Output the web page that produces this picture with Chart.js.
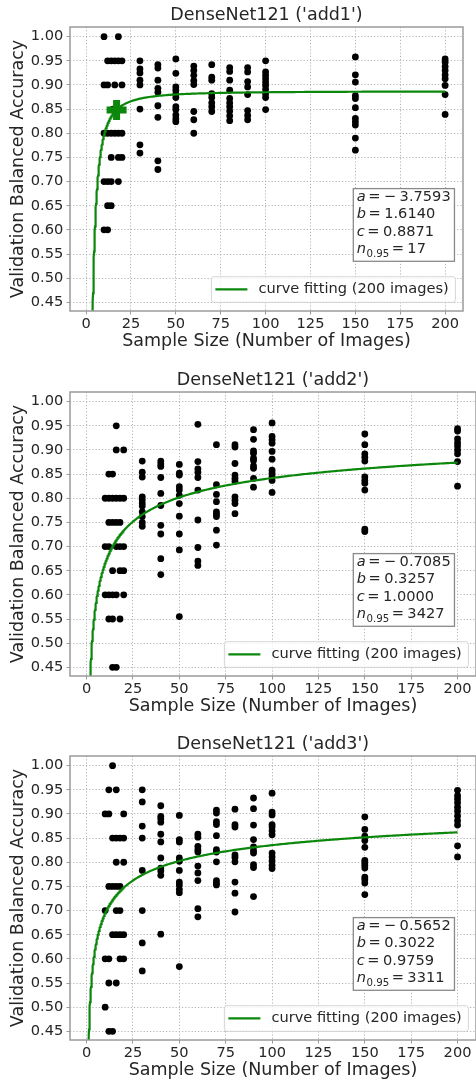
<!DOCTYPE html>
<html>
<head>
<meta charset="utf-8">
<script src="https://cdn.jsdelivr.net/npm/chart.js@4.4.1/dist/chart.umd.min.js"></script>
<style>
  html, body { margin: 0; padding: 0; background: #fff; overflow: hidden; width: 476px; height: 1082px; }
  canvas.panel { position: absolute; left: 0; }
</style>
</head>
<body>
<canvas id="add1" class="panel" style="top:0px" width="480" height="353"></canvas>
<canvas id="add2" class="panel" style="top:365px" width="480" height="353"></canvas>
<canvas id="add3" class="panel" style="top:729px" width="480" height="353"></canvas>
<script>
// ---- axis ticks ----
const sizeTicks = [0, 25, 50, 75, 100, 125, 150, 175, 200];
const accTicks = [0.45, 0.50, 0.55, 0.60, 0.65, 0.70, 0.75, 0.80, 0.85, 0.90, 0.95, 1.00];

// ---- 'add1': runs with 10–20 images [size, balanced accuracy] ----
const add1Small = [
  [10, 1.00], [18, 1.00],
  [12, 0.95], [14, 0.95], [16, 0.95], [18, 0.95], [20, 0.95],
  [10, 0.90], [12, 0.90], [16, 0.90], [20, 0.90],
  [15, 0.85], [18, 0.85],
  [10, 0.80], [12, 0.80], [14, 0.80], [16, 0.80], [18, 0.80], [20, 0.80],
  [14, 0.75], [18, 0.75], [20, 0.75],
  [10, 0.70], [12, 0.70], [14, 0.70], [18, 0.70],
  [12, 0.65], [14, 0.65],
  [10, 0.60], [12, 0.60]
];
// ---- 'add1': runs with 30–200 images [size, accuracies] ----
const add1Runs = [
  [30, [0.95, 0.933, 0.925, 0.91, 0.90, 0.85, 0.776, 0.759]],
  [40, [0.942, 0.935, 0.91, 0.893, 0.885, 0.857, 0.833, 0.743, 0.725]],
  [50, [0.954, 0.924, 0.896, 0.889, 0.881, 0.874, 0.855, 0.849, 0.838, 0.83, 0.824]],
  [60, [0.939, 0.93, 0.92, 0.909, 0.901, 0.845, 0.828, 0.80]],
  [70, [0.942, 0.916, 0.91, 0.882, 0.874, 0.863, 0.855, 0.845]],
  [80, [0.936, 0.928, 0.91, 0.889, 0.872, 0.863, 0.855, 0.846, 0.836, 0.826]],
  [90, [0.936, 0.927, 0.907, 0.896, 0.88, 0.847, 0.837, 0.828]],
  [100, [0.95, 0.927, 0.92, 0.913, 0.906, 0.899, 0.891, 0.882, 0.874, 0.849]],
  [150, [0.958, 0.921, 0.906, 0.878, 0.872, 0.853, 0.831, 0.824, 0.817, 0.79, 0.765]],
  [200, [0.954, 0.947, 0.938, 0.93, 0.921, 0.913, 0.899, 0.88, 0.839]]
];
// fitted learning curve y = a * n^(-b) + c, and n for 95 %
const add1Fit = [-3.7593, 1.6140, 0.8871, 17];

// ---- 'add2' ----
const add2Small = [
  [16, 0.95],
  [16, 0.90], [20, 0.90],
  [12, 0.85], [14, 0.85],
  [10, 0.80], [12, 0.80], [14, 0.80], [16, 0.80], [18, 0.80], [20, 0.80],
  [12, 0.75], [14, 0.75], [16, 0.75], [18, 0.75],
  [10, 0.70], [12, 0.70], [16, 0.70], [18, 0.70], [20, 0.70],
  [14, 0.65], [18, 0.65], [20, 0.65],
  [10, 0.60], [12, 0.60], [14, 0.60], [16, 0.60], [20, 0.60],
  [12, 0.55], [14, 0.55], [18, 0.55],
  [14, 0.45], [16, 0.45]
];
const add2Runs = [
  [30, [0.877, 0.854, 0.844, 0.803, 0.797, 0.79, 0.784, 0.772, 0.762, 0.75, 0.742]],
  [40, [0.877, 0.871, 0.866, 0.843, 0.81, 0.785, 0.744, 0.726, 0.675, 0.642]],
  [50, [0.87, 0.852, 0.848, 0.824, 0.817, 0.806, 0.789, 0.763, 0.726, 0.693, 0.555]],
  [60, [0.953, 0.876, 0.861, 0.854, 0.843, 0.817, 0.755, 0.698, 0.67, 0.661]],
  [70, [0.911, 0.828, 0.808, 0.793, 0.772, 0.767, 0.762, 0.734, 0.703]],
  [80, [0.911, 0.906, 0.872, 0.848, 0.841, 0.835, 0.803, 0.796, 0.789, 0.768]],
  [90, [0.942, 0.922, 0.898, 0.893, 0.883, 0.878, 0.867, 0.862, 0.841, 0.823]],
  [100, [0.956, 0.928, 0.921, 0.914, 0.897, 0.881, 0.858, 0.852, 0.845, 0.837, 0.812]],
  [150, [0.933, 0.911, 0.892, 0.885, 0.877, 0.844, 0.837, 0.831, 0.817, 0.736, 0.731]],
  [200, [0.944, 0.939, 0.923, 0.915, 0.908, 0.9, 0.892, 0.876, 0.825]]
];
const add2Fit = [-0.7085, 0.3257, 1.0000, 3427];

// ---- 'add3' ----
const add3Small = [
  [14, 1.00],
  [12, 0.95], [16, 0.95],
  [10, 0.90], [12, 0.90], [20, 0.90],
  [14, 0.85], [16, 0.85], [18, 0.85], [20, 0.85],
  [16, 0.80], [20, 0.80],
  [12, 0.75], [14, 0.75], [16, 0.75], [18, 0.75],
  [10, 0.70], [16, 0.70], [18, 0.70],
  [14, 0.65], [16, 0.65], [18, 0.65], [20, 0.65],
  [10, 0.60], [12, 0.60], [18, 0.60], [20, 0.60],
  [12, 0.55], [16, 0.55],
  [10, 0.50],
  [12, 0.45], [14, 0.45]
];
const add3Runs = [
  [30, [0.95, 0.925, 0.875, 0.85, 0.783, 0.70, 0.633, 0.575]],
  [40, [0.917, 0.895, 0.89, 0.883, 0.858, 0.842, 0.809, 0.788, 0.782, 0.773, 0.651]],
  [50, [0.897, 0.847, 0.842, 0.809, 0.802, 0.783, 0.759, 0.753, 0.744, 0.737, 0.584]],
  [60, [0.858, 0.852, 0.833, 0.826, 0.821, 0.792, 0.778, 0.762, 0.704, 0.687]],
  [70, [0.908, 0.902, 0.884, 0.878, 0.855, 0.826, 0.821, 0.801, 0.762, 0.757, 0.753]],
  [80, [0.91, 0.878, 0.873, 0.815, 0.81, 0.801, 0.759, 0.736, 0.697]],
  [90, [0.933, 0.911, 0.877, 0.847, 0.832, 0.824, 0.819, 0.795, 0.789, 0.729]],
  [100, [0.943, 0.904, 0.898, 0.878, 0.873, 0.865, 0.857, 0.819, 0.811, 0.803, 0.794, 0.787]],
  [150, [0.894, 0.868, 0.854, 0.845, 0.831, 0.804, 0.799, 0.794, 0.788, 0.769, 0.764, 0.757, 0.733]],
  [200, [0.949, 0.938, 0.931, 0.923, 0.914, 0.906, 0.896, 0.886, 0.877, 0.834, 0.811]]
];
const add3Fit = [-0.5652, 0.3022, 0.9759, 3311];

// ---- styling ----
const FAMILY = '"DejaVu Sans", sans-serif';
const TEXT = '#262626';
const GREEN = '#0b870b';
const X_MIN = -8.95, X_MAX = 209.95;
const Y_MIN = 0.432, Y_MAX = 1.02;
const CANVAS_H = 353, PLOT_TOP = 27, PLOT_BOTTOM = 311, AXIS_W = 70;

Chart.defaults.font.family = FAMILY;
Chart.defaults.color = TEXT;

function curveValue(fit, n) {
  const [a, b, c] = fit;
  return a * Math.pow(n, -b) + c;
}

function scatterPoints(small, runs) {
  const pts = small.map(([x, y]) => ({ x, y }));
  runs.forEach(([x, ys]) => ys.forEach(y => pts.push({ x, y })));
  return pts;
}

function curvePoints(fit) {
  const pts = [];
  for (let n = 1; n <= 200.0001; n += (n < 20 ? 0.1 : 1)) pts.push({ x: n, y: curveValue(fit, n) });
  return pts;
}

function fmt(v) { return Math.abs(v).toFixed(4); }

// frame, title, fit-parameter box and legend drawn on top of the plot
const panelDecor = {
  id: 'panelDecor',
  afterDraw(chart, args, o) {
    const { ctx, chartArea: a } = chart;
    ctx.save();

    // axes frame
    ctx.strokeStyle = '#9b9b9b';
    ctx.lineWidth = 1.5;
    ctx.strokeRect(a.left, a.top, a.right - a.left, a.bottom - a.top);

    // panel title
    ctx.fillStyle = TEXT;
    ctx.textAlign = 'center';
    ctx.textBaseline = 'middle';
    ctx.font = '17.5px ' + FAMILY;
    ctx.fillText(o.title, (a.left + a.right) / 2, 15.5);

    // fit-parameter box
    const [pa, pb, pc, pn] = o.fit;
    const rows = [
      ['a', null, pa < 0 ? '\u2212' : null, fmt(pa)],
      ['b', null, pb < 0 ? '\u2212' : null, fmt(pb)],
      ['c', null, pc < 0 ? '\u2212' : null, fmt(pc)],
      ['n', '0.95', null, String(pn)]
    ];
    const main = '14.6px ' + FAMILY, ital = 'italic 14.6px ' + FAMILY, small = '10.2px ' + FAMILY;
    const boxL = a.left + 283.3, boxT = a.top + 161.6;
    const textL = boxL + 3.4;
    ctx.textAlign = 'left';
    // measure widths first
    const widths = rows.map(([v, sub, sign, num]) => {
      let w = 0;
      ctx.font = ital; w += ctx.measureText(v).width;
      if (sub) { ctx.font = small; w += ctx.measureText(sub).width + 0.5; }
      ctx.font = main;
      w += 2.5 + ctx.measureText('=').width + 3.5;
      if (sign) w += ctx.measureText(sign).width + 3.5;
      w += ctx.measureText(num).width;
      return w;
    });
    const boxW = Math.max(...widths) + 7.2, boxH = 72.7;
    ctx.fillStyle = '#ffffff';
    ctx.fillRect(boxL, boxT, boxW, boxH);
    ctx.strokeStyle = '#8a8a8a';
    ctx.lineWidth = 1.3;
    ctx.strokeRect(boxL, boxT, boxW, boxH);
    ctx.fillStyle = TEXT;
    rows.forEach(([v, sub, sign, num], i) => {
      const y = boxT + 8.6 + i * 17.45;
      let x = textL;
      ctx.font = ital; ctx.fillText(v, x, y); x += ctx.measureText(v).width;
      if (sub) { ctx.font = small; ctx.fillText(sub, x + 0.5, y + 4.8); x += ctx.measureText(sub).width + 0.5; }
      ctx.font = main;
      x += 2.5; ctx.fillText('=', x, y); x += ctx.measureText('=').width + 3.5;
      if (sign) { ctx.fillText(sign, x, y); x += ctx.measureText(sign).width + 3.5; }
      ctx.fillText(num, x, y);
    });

    // legend (lower right, inside the axes)
    const line = chart.data.datasets.find(d => d.type === 'line');
    ctx.font = main;
    const tw = ctx.measureText(line.label).width;
    const lgR = a.right - 7.6, lgB = a.bottom - 8.7, lgT = lgB - 25.6;
    const lgL = lgR - (tw + 53.7);
    ctx.beginPath();
    ctx.roundRect(lgL, lgT, lgR - lgL, lgB - lgT, 2.5);
    ctx.fillStyle = 'rgba(255,255,255,0.8)';
    ctx.fill();
    ctx.strokeStyle = 'rgba(204,204,204,0.8)';
    ctx.lineWidth = 1;
    ctx.stroke();
    ctx.strokeStyle = line.borderColor;
    ctx.lineWidth = line.borderWidth;
    ctx.beginPath();
    ctx.moveTo(lgL + 4, lgT + 12.6);
    ctx.lineTo(lgL + 36, lgT + 12.6);
    ctx.stroke();
    ctx.fillStyle = TEXT;
    ctx.textBaseline = 'middle';
    ctx.fillText(line.label, lgL + 47, lgT + 12.8);

    ctx.restore();
  }
};

function makePanel(id, title, small, runs, fit) {
  const datasets = [];
  const n = fit[3];
  if (n <= 200) {
    datasets.push({
      type: 'scatter',
      label: 'n95',
      data: [{ x: n, y: curveValue(fit, n) }],
      pointStyle: 'cross',
      pointRadius: 10,
      borderWidth: 7,
      borderColor: GREEN,
      backgroundColor: GREEN
    });
  }
  datasets.push({
    type: 'line',
    label: 'curve fitting (200 images)',
    data: curvePoints(fit),
    borderColor: GREEN,
    borderWidth: 2.2,
    pointRadius: 0,
    tension: 0,
    fill: false
  });
  datasets.push({
    type: 'scatter',
    label: 'runs',
    data: scatterPoints(small, runs),
    pointRadius: 3.4,
    borderWidth: 0,
    backgroundColor: '#000000',
    borderColor: '#000000'
  });

  const gridCommon = {
    color: '#b3b3b3',
    lineWidth: 1,
    drawTicks: true,
    tickLength: 3.5,
    tickColor: '#9b9b9b',
    tickWidth: 1,
    tickBorderDash: []
  };
  const borderCommon = { display: false, dash: [1.2, 2] };

  new Chart(document.getElementById(id), {
    data: { datasets },
    options: {
      responsive: false,
      animation: false,
      events: [],
      layout: { padding: { top: PLOT_TOP, right: 1, left: 0, bottom: 0 } },
      plugins: {
        legend: { display: false },
        tooltip: { enabled: false },
        panelDecor: { title, fit }
      },
      scales: {
        x: {
          type: 'linear',
          position: 'bottom',
          min: X_MIN,
          max: X_MAX,
          afterBuildTicks: s => { s.ticks = sizeTicks.map(v => ({ value: v })); },
          afterFit: s => { s.height = CANVAS_H - PLOT_BOTTOM; },
          grid: gridCommon,
          border: borderCommon,
          ticks: { font: { size: 14.6 }, color: TEXT, padding: 1, maxRotation: 0, autoSkip: false },
          title: {
            display: true,
            text: 'Sample Size (Number of Images)',
            font: { size: 17.5 },
            color: TEXT,
            padding: { top: 0, bottom: 1 }
          }
        },
        y: {
          type: 'linear',
          position: 'left',
          min: Y_MIN,
          max: Y_MAX,
          afterBuildTicks: s => { s.ticks = accTicks.map(v => ({ value: v })); },
          afterFit: s => { s.width = AXIS_W; },
          grid: gridCommon,
          border: borderCommon,
          ticks: {
            font: { size: 14.6 },
            color: TEXT,
            padding: 3.2,
            autoSkip: false,
            callback: v => Number(v).toFixed(2)
          },
          title: {
            display: true,
            text: 'Validation Balanced Accuracy',
            font: { size: 17.5 },
            color: TEXT,
            padding: { top: 7.5, bottom: 0 }
          }
        }
      }
    },
    plugins: [panelDecor]
  });
}

makePanel('add1', "DenseNet121 ('add1')", add1Small, add1Runs, add1Fit);
makePanel('add2', "DenseNet121 ('add2')", add2Small, add2Runs, add2Fit);
makePanel('add3', "DenseNet121 ('add3')", add3Small, add3Runs, add3Fit);
</script>
</body>
</html>
